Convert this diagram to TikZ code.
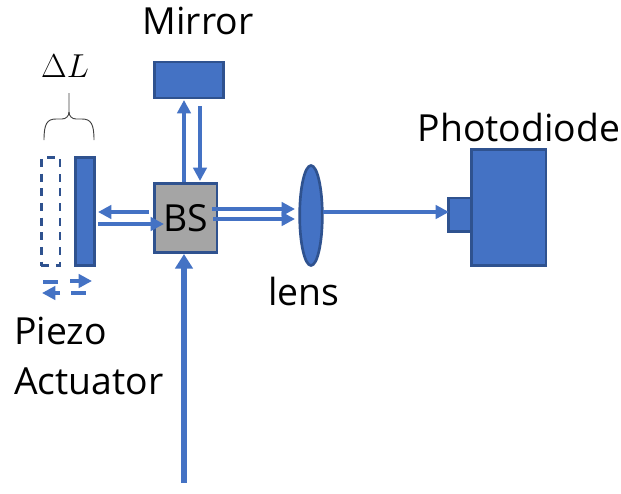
\documentclass[tikz,border=0pt]{standalone}
\usepackage{amsmath}
\usepackage{fontspec}
\setmainfont{Open Sans}
\usepackage{xcolor}
\usepackage{tikz}
\usetikzlibrary{arrows.meta,shapes.geometric}
\definecolor{beamblue}{HTML}{4472C4}
\definecolor{edgeblue}{HTML}{2F528F}
\definecolor{bsgray}{HTML}{A5A5A5}
\tikzset{
	part/.style={rectangle,draw=edgeblue,fill=beamblue,line width=2pt,inner sep=0pt,outer sep=0pt},
	beam/.style={draw=beamblue,line width=2.8pt,-{Triangle[width=10pt,length=10pt]}},
	stub/.style={draw=beamblue,line width=2.8pt},
	label/.style={inner sep=0pt,font=\fontsize{28}{34}\selectfont},
}
\begin{document}
\begin{tikzpicture}[x=0.75pt,y=-0.75pt]
		\useasboundingbox (0,0) rectangle (621,493);
		% optical parts
		\node[part,minimum width=52pt,minimum height=27pt] (Mirror) at (189,80) {};
		\node[part,minimum width=47pt,minimum height=52pt,fill=bsgray,label,text=black] (BS) at (185.5,218) {BS};
		\node[part,minimum width=14pt,minimum height=81pt] (Piezo) at (85,211.5) {};
		\node[part,minimum width=14pt,minimum height=81pt,fill=none,dash pattern=on 6pt off 5pt] (Ghost) at (50.5,211.5) {};
		\node[part,ellipse,minimum width=17pt,minimum height=75pt] (Lens) at (311,215.5) {};
		\node[part,minimum width=17pt,minimum height=25pt] (Window) at (460,214.5) {};
		\node[part,minimum width=56pt,minimum height=87pt] (Diode) at (508.5,207.5) {};
		% labels
		\node[label] (MirrorText) at (198,21) {Mirror};
		\node[label] (PhotoText) at (519,127) {Photodiode};
		\node[label] (LensText) at (304,291) {lens};
		\node[label,anchor=west] (PiezoText) at (14,331) {Piezo};
		\node[label,anchor=west] (ActuatorText) at (14,381) {Actuator};
		\node[label,font=\fontsize{27}{32}\selectfont] (DeltaText) at (65,66) {$\Delta L$};
		% free ends of the beams
		\coordinate (InStart) at (184,483);
		\coordinate (InEnd) at (184,254);
		\coordinate (UpEnd) at (184,100);
		\coordinate (DownStart) at (200,106);
		\coordinate (DownEnd) at (200,181);
		\coordinate (UpStart) at (184,182);
		\coordinate (BackStart) at (149,212);
		\coordinate (BackEnd) at (98,212);
		\coordinate (OutStart) at (98,224);
		\coordinate (OutEnd) at (164,224);
		\coordinate (TopStart) at (212,209);
		\coordinate (TopEnd) at (295,209);
		\coordinate (LowStart) at (213,219);
		\coordinate (LowEnd) at (295,219);
		\coordinate (LensOut) at (323,212);
		\coordinate (DiodeIn) at (449,212);
		\coordinate (BraceL) at (44,140);
		\coordinate (BraceR) at (94,140);
		\coordinate (BraceTip) at (69,93);
		\coordinate (BraceMid) at (69,112);
		% beams
		\path
		(UpStart) edge[beam] (UpEnd)
		(DownStart) edge[beam] (DownEnd)
		(BackStart) edge[beam] (BackEnd)
		(OutStart) edge[beam] (OutEnd)
		(TopStart) edge[beam] (TopEnd)
		(LowStart) edge[beam] (LowEnd)
		(LensOut) edge[beam] (DiodeIn);
		\draw[beam,line width=4pt,-{Triangle[width=13pt,length=11pt]}] (InStart) -- (InEnd);
		% movement of the piezo
		\coordinate (MoveLa) at (43,282);
		\coordinate (MoveLb) at (58,282);
		\coordinate (MoveLc) at (60,293);
		\coordinate (MoveLd) at (42,293);
		\coordinate (MoveRa) at (70,281);
		\coordinate (MoveRb) at (92,281);
		\coordinate (MoveRc) at (71,293);
		\coordinate (MoveRd) at (86,293);
		\path
		(MoveLa) edge[stub] (MoveLb)
		(MoveRc) edge[stub] (MoveRd)
		(MoveLc) edge[beam] (MoveLd)
		(MoveRa) edge[beam] (MoveRb);
		% brace
		\draw[black!75,line width=0.7pt] (BraceL) .. controls (44,124) and (47,119) .. (56,119) -- (62,119) .. controls (66,119) and (69,116) .. (BraceMid) -- (BraceTip);
		\draw[black!75,line width=0.7pt] (BraceR) .. controls (94,124) and (91,119) .. (82,119) -- (76,119) .. controls (72,119) and (69,116) .. (BraceMid);
	\end{tikzpicture}
\end{document}
